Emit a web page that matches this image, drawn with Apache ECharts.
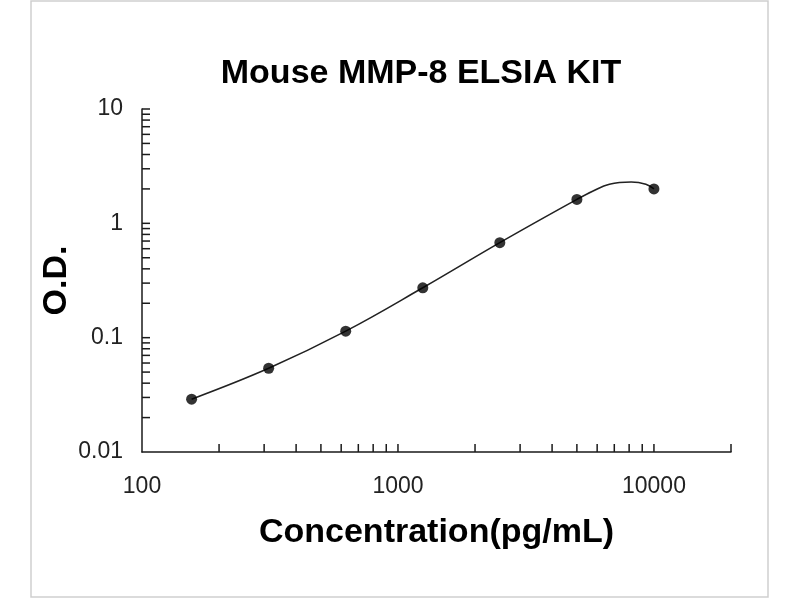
<!DOCTYPE html>
<html>
<head>
<meta charset="utf-8">
<title>Mouse MMP-8 ELSIA KIT</title>
<script src="https://cdn.jsdelivr.net/npm/echarts@6/dist/echarts.min.js"></script>
<style>
  html, body { margin: 0; padding: 0; background: #fff; }
  #main { width: 800px; height: 600px; }
</style>
</head>
<body>
<div id="main"></div>
<script>
var dom = document.getElementById('main');
var myChart = echarts.init(dom, null, { renderer: 'canvas' });

// standard points (pg/mL, O.D.)
var conc = [156.25, 312.5, 625, 1250, 2500, 5000, 10000];
var od = [0.029, 0.054, 0.114, 0.273, 0.678, 1.62, 2.0];

// fitted curve
var curveX = [156.25, 312.5, 625, 1250, 2500, 5000, 5760, 6700, 8150, 9300, 10000];
var curveY = [0.029, 0.054, 0.114, 0.273, 0.678, 1.62, 1.91, 2.2, 2.3, 2.2, 2.0];

// tick marks (minor + major)
var xTicks = [200, 300, 400, 500, 600, 700, 800, 900, 1000,
    2000, 3000, 4000, 5000, 6000, 7000, 8000, 9000, 10000, 20000];
var yTicks = [0.02, 0.03, 0.04, 0.05, 0.06, 0.07, 0.08, 0.09, 0.1,
    0.2, 0.3, 0.4, 0.5, 0.6, 0.7, 0.8, 0.9, 1,
    2, 3, 4, 5, 6, 7, 8, 9, 10];

var xMin = 100, xMax = 20000;
var yMin = 0.01, yMax = 10;

var axisColor = '#1a1a1a';
var tickLen = 8;
var font = 'Liberation Sans';

function isPow10(v) {
    var l = Math.log(v) / Math.LN10;
    return Math.abs(l - Math.round(l)) < 1e-6;
}

function labelFmt(v) {
    return isPow10(v) ? String(+Number(v).toPrecision(6)) : '';
}

function tickRender(dir) {
    return function (params, api) {
        var p = api.coord([api.value(0), api.value(1)]);
        var shape = dir === 'x'
            ? { x1: p[0], y1: p[1], x2: p[0], y2: p[1] - tickLen }
            : { x1: p[0], y1: p[1], x2: p[0] + tickLen, y2: p[1] };
        return {
            type: 'line',
            shape: shape,
            style: { stroke: axisColor, lineWidth: 1.5 }
        };
    };
}

var option = {
    backgroundColor: '#fff',
    animation: false,
    title: {
        text: 'Mouse MMP-8 ELSIA KIT',
        left: 416,
        top: 52,
        textAlign: 'center',
        textStyle: { fontFamily: font, fontSize: 34, fontWeight: 'bold', color: '#000' }
    },
    graphic: [{
        type: 'rect',
        shape: { x: 31, y: 1, width: 737, height: 596 },
        style: { fill: 'none', stroke: '#cfcfcf', lineWidth: 1.5 },
        silent: true
    }],
    grid: { left: 142, top: 109, right: 69, bottom: 148, containLabel: false },
    xAxis: {
        type: 'log',
        logBase: 10,
        min: xMin,
        max: xMax,
        name: 'Concentration(pg/mL)',
        nameLocation: 'middle',
        nameGap: 64,
        nameMoveOverlap: false,
        nameTextStyle: { fontFamily: font, fontSize: 34, fontWeight: 'bold', color: '#000' },
        axisLine: { show: true, lineStyle: { color: axisColor, width: 1.5 } },
        axisTick: { show: false },
        splitLine: { show: false },
        axisLabel: {
            fontFamily: font, fontSize: 23, color: '#222', margin: 23,
            formatter: labelFmt, showMaxLabel: false
        }
    },
    yAxis: {
        type: 'log',
        logBase: 10,
        min: yMin,
        max: yMax,
        name: 'O.D.',
        nameLocation: 'middle',
        nameGap: 68,
        nameMoveOverlap: false,
        nameTextStyle: { fontFamily: font, fontSize: 34, fontWeight: 'bold', color: '#000' },
        axisLine: { show: true, lineStyle: { color: axisColor, width: 1.5 } },
        axisTick: { show: false },
        splitLine: { show: false },
        axisLabel: {
            fontFamily: font, fontSize: 23, color: '#222', margin: 19,
            padding: [4, 0, 0, 0],
            formatter: labelFmt
        }
    },
    series: [
        {
            type: 'line',
            data: curveX.map(function (x, i) { return [x, curveY[i]]; }),
            smooth: 0.4,
            showSymbol: false,
            lineStyle: { color: '#222', width: 1.6 },
            silent: true,
            z: 3
        },
        {
            type: 'scatter',
            data: conc.map(function (x, i) { return [x, od[i]]; }),
            symbol: 'circle',
            symbolSize: 11,
            itemStyle: { color: '#000' },
            z: 4
        },
        {
            type: 'custom',
            renderItem: tickRender('x'),
            data: xTicks.map(function (v) { return [v, yMin]; }),
            clip: false,
            silent: true,
            z: 5
        },
        {
            type: 'custom',
            renderItem: tickRender('y'),
            data: yTicks.map(function (v) { return [xMin, v]; }),
            clip: false,
            silent: true,
            z: 5
        }
    ]
};

myChart.setOption(option);
</script>
</body>
</html>
